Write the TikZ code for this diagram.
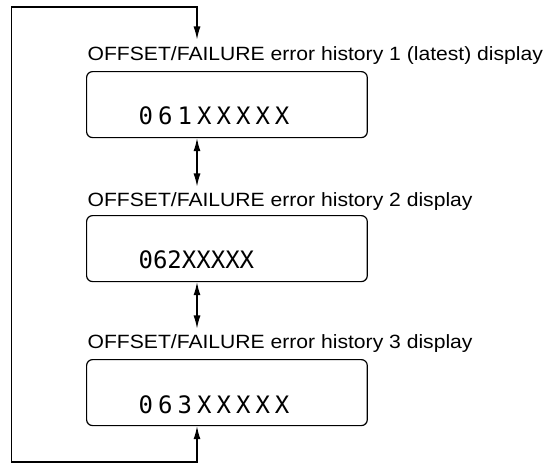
\documentclass[tikz,border=0pt]{standalone}
\usepackage{fontspec}
\setmainfont{Liberation Sans}[FakeStretch=1.10]
\newfontfamily\lcdwide{DejaVu Sans Mono}[LetterSpace=21]
\newfontfamily\lcdnarrow{DejaVu Sans Mono}
\usetikzlibrary{arrows.meta}
\begin{document}
\begin{tikzpicture}[x=1pt,y=-1pt,
  line width=1.2pt,
  tip/.tip={Latex[length=13pt,width=7pt]},
  title/.style={anchor=base west,inner sep=0pt,font=\fontsize{19.2}{21}\selectfont},
  panel/.style={draw,rounded corners=6pt,minimum width=280.7pt,minimum height=66pt,inner sep=0pt,anchor=north west},
  readout/.style={anchor=base west,inner sep=0pt,font=\fontsize{24}{26}\selectfont},
  link/.style={draw,tip-tip}]
\useasboundingbox (0,0) rectangle (546,463);

% three display panels with their headings
\node[title] (h1) at (87,60) {OFFSET/FAILURE error history 1 (latest) display};
\node[panel] (p1) at (86,71) {};
\node[readout] (r1) at (138,124) {\lcdwide 061XXXXX};

\node[title] (h2) at (87,206) {OFFSET/FAILURE error history 2 display};
\node[panel] (p2) at (86,215) {};
\node[readout] (r2) at (138,268) {\lcdnarrow 062XXXXX};

\node[title] (h3) at (87,348) {OFFSET/FAILURE error history 3 display};
\node[panel] (p3) at (86,359) {};
\node[readout] (r3) at (138,413) {\lcdwide 063XXXXX};

% column of the vertical connectors and the return loop corners
\coordinate (col) at (197,0);
\coordinate (loopTop) at (11.7,7);
\coordinate (loopBot) at (11.7,462);

% two-way steps between panels
\draw[link] (p1.south -| col) -- ([yshift=5pt]h2.north -| col);
\draw[link] (p2.south -| col) -- ([yshift=5pt]h3.north -| col);

% return path from the last panel back to the first heading
\draw[link] (p3.south -| col) -- (loopBot -| col) -- (loopBot) -- (loopTop)
  -- (loopTop -| col) -- ([yshift=6pt]h1.north -| col);
\end{tikzpicture}
\end{document}
